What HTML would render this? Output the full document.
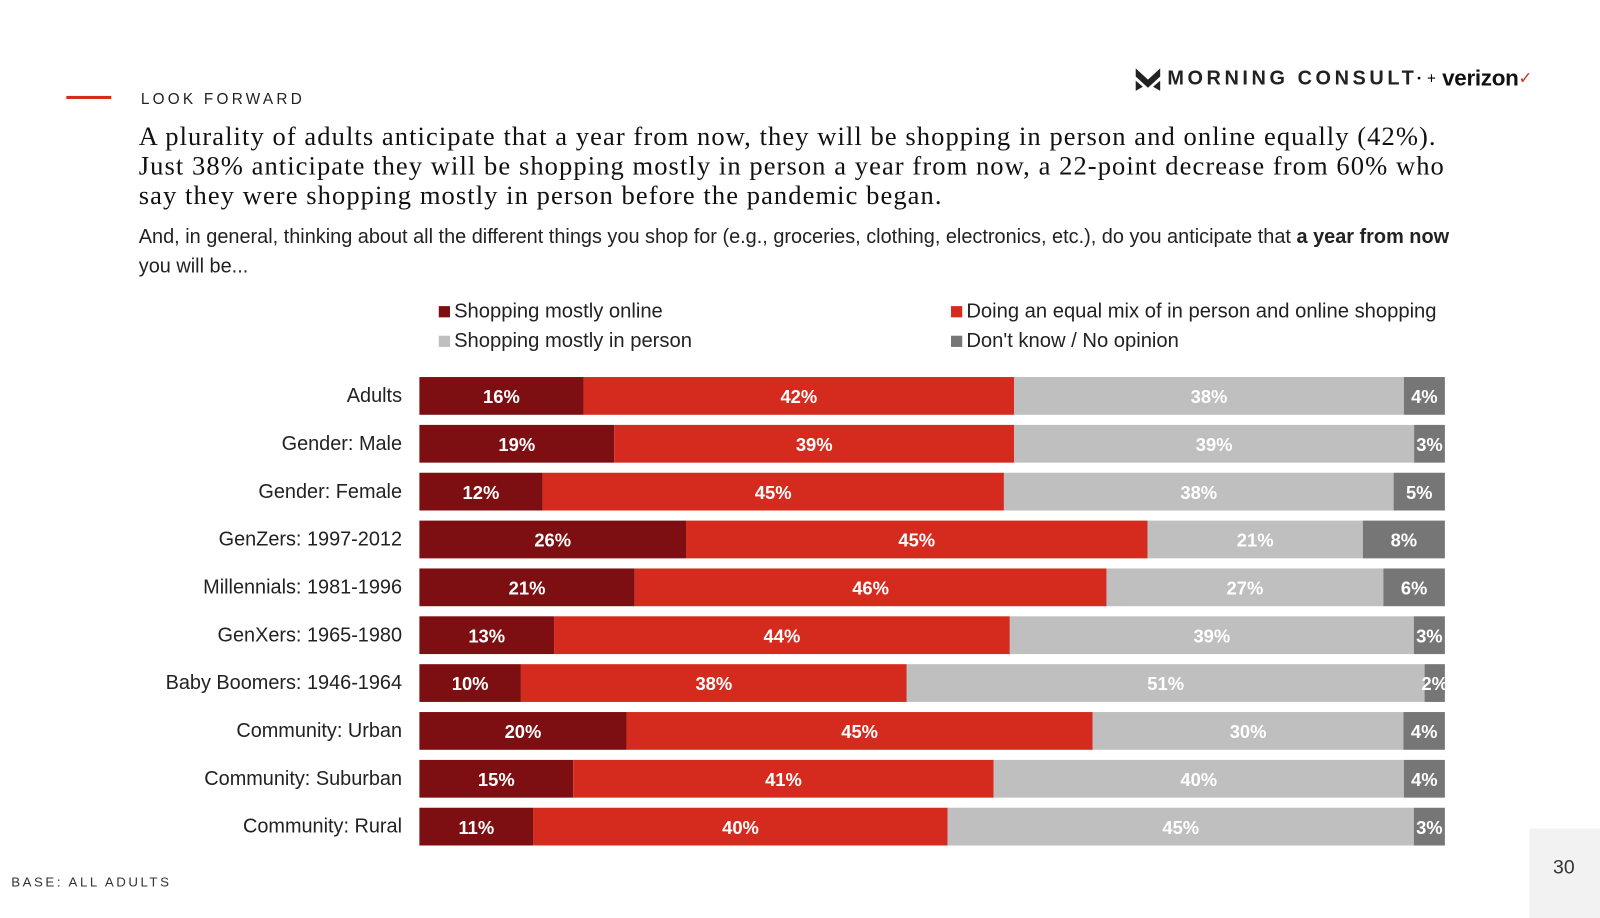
<!DOCTYPE html>
<html><head><meta charset="utf-8"><style>
body{margin:0;width:1600px;height:900px;background:#fff;position:relative;overflow:hidden;font-family:"Liberation Sans",sans-serif}
#wrap{position:absolute;left:0;top:0;width:1568px;height:882px;transform:scale(1.0204);transform-origin:0 0}
.abs{position:absolute}
</style></head><body><div id="wrap">
<div class="abs" style="left:65px;top:94px;width:44px;height:3px;background:#d52b1e"></div>
<div class="abs" style="left:138px;top:89px;font-size:15px;letter-spacing:3.2px;color:#222">LOOK FORWARD</div>
<div class="abs" style="left:1112px;top:64px;height:26px;display:flex;align-items:center;white-space:nowrap">
<svg width="26" height="24" viewBox="0 0 26 24"><path d="M1 2 L13 13 L25 2 L25 10 L13 21 L1 10 Z M1 14 L8 20 L1 24Z M25 14 L18 20 L25 24Z" fill="#222"/></svg>
<span style="font-weight:bold;font-size:19.5px;letter-spacing:3.5px;color:#222;margin-left:6px">MORNING CONSULT</span><span style="font-size:10px;vertical-align:top">•</span><span style="font-size:15px;margin:0 6px">+</span><span style="font-weight:bold;font-size:22px;color:#111;letter-spacing:-0.3px">verizon</span><span style="color:#d52b1e;font-size:16px">✓</span></div>
<div class="abs" style="left:136px;top:119px;white-space:nowrap;font-family:'Liberation Serif',serif;font-size:26px;letter-spacing:1.05px;line-height:29px;color:#111">A plurality of adults anticipate that a year from now, they will be shopping in person and online equally (42%).<br>Just 38% anticipate they will be shopping mostly in person a year from now, a 22-point decrease from 60% who<br>say they were shopping mostly in person before the pandemic began.</div>
<div class="abs" style="left:136px;top:218px;white-space:nowrap;font-size:19.5px;line-height:29px;color:#222">And, in general, thinking about all the different things you shop for (e.g., groceries, clothing, electronics, etc.), do you anticipate that <b>a year from now</b><br>you will be...</div>
<div id="legend"></div>
<svg id="chart" class="abs" style="left:0;top:0" width="1568" height="882"></svg>
<div class="abs" style="left:11px;top:857px;font-size:13px;letter-spacing:2.5px;color:#333">BASE: ALL ADULTS</div>
<div class="abs" style="left:1499px;top:812px;width:101px;height:88px;background:#f2f2f2"></div>
<div class="abs" style="left:1522px;top:840px;font-size:19px;color:#333">30</div>
</div>
<script>
const categories=["Adults","Gender: Male","Gender: Female","GenZers: 1997-2012","Millennials: 1981-1996","GenXers: 1965-1980","Baby Boomers: 1946-1964","Community: Urban","Community: Suburban","Community: Rural"];
const seriesNames=["Shopping mostly online","Doing an equal mix of in person and online shopping","Shopping mostly in person","Don't know / No opinion"];
const online=[16,19,12,26,21,13,10,20,15,11];
const mix=[42,39,45,45,46,44,38,45,41,40];
const inPerson=[38,39,38,21,27,39,51,30,40,45];
const dontKnow=[4,3,5,8,6,3,2,4,4,3];
const colors=["#7d0f12","#d52b1e","#bfbfbf","#767676"];
const series=[online,mix,inPerson,dontKnow];
const NS="http://www.w3.org/2000/svg";
const svg=document.getElementById('chart');
const x0=411,x1=1416,y0=388,step=46.9,bh=37;
function yPos(i){return y0+i*step;}
categories.forEach((c,i)=>{
  const tot=series.reduce((s,a)=>s+a[i],0);
  const sx=v=>v/tot*(x1-x0);
  let x=x0;const yc=yPos(i);
  const t=document.createElementNS(NS,'text');
  
  
  t.setAttribute('x',394);t.setAttribute('y',yc+6);t.setAttribute('text-anchor','end');
  t.setAttribute('font-size','19.5');t.setAttribute('fill','#222');t.textContent=c;svg.appendChild(t);
  series.forEach((s,k)=>{
    const w=sx(s[i]);
    const r=document.createElementNS(NS,'rect');
    
    
    r.setAttribute('x',x);r.setAttribute('y',yc-bh/2);r.setAttribute('width',w);r.setAttribute('height',bh);r.setAttribute('fill',colors[k]);
    svg.appendChild(r);
    const l=document.createElementNS(NS,'text');
    
    
    l.setAttribute('x',x+w/2);l.setAttribute('y',yc+7);l.setAttribute('text-anchor','middle');
    l.setAttribute('font-size','18');l.setAttribute('font-weight','bold');l.setAttribute('fill','#fff');
    l.textContent=s[i]+'%';svg.appendChild(l);
    x+=w;
  });
});
const lg=document.getElementById('legend');
const lpos=[[430,294],[932,294],[430,323],[932,323]];
[0,1,2,3].forEach(k=>{
  const d=document.createElement('div');
  
  
  d.className='abs';d.style.left=lpos[k][0]+'px';d.style.top=lpos[k][1]+'px';
  d.style.fontSize='19.8px';d.style.color='#222';d.style.whiteSpace='nowrap';
  d.innerHTML='<span style="display:inline-block;width:11px;height:11px;background:'+colors[k]+';margin-right:4px"></span>'+seriesNames[k];
  lg.appendChild(d);
});
</script>
</body></html>
